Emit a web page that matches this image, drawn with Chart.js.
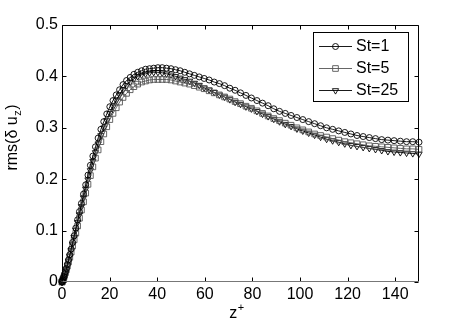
<!DOCTYPE html>
<html>
<head>
<meta charset="utf-8">
<script src="https://cdn.jsdelivr.net/npm/chart.js@4.4.1/dist/chart.umd.min.js"></script>
<style>
  html, body { margin: 0; padding: 0; background: #fff; }
  #caja { width: 463px; height: 327px; position: relative; }
</style>
</head>
<body>
<div id="caja"><canvas id="grafico"></canvas></div>
<script>
// posiciones z+ de la malla (denso cerca de la pared)
const zPlus = [
  0, 0.02, 0.09, 0.21, 0.37, 0.57, 0.82, 1.12, 1.46, 1.85,
  2.28, 2.76, 3.28, 3.85, 4.46, 5.11, 5.81, 6.56, 7.34, 8.17,
  9.05, 9.96, 10.92, 11.93, 12.97, 14.05, 15.18, 16.35, 17.56, 18.81,
  20.10, 21.43, 22.79, 24.20, 25.64, 27.13, 28.65, 30.20, 31.80, 33.43,
  35.09, 36.79, 38.53, 40.30, 42.10, 43.93, 45.80, 47.70, 49.63, 51.59,
  53.58, 55.60, 57.65, 59.73, 61.83, 63.96, 66.12, 68.30, 70.51, 72.74,
  75.00, 77.28, 79.58, 81.90, 84.25, 86.61, 88.99, 91.39, 93.81, 96.25,
  98.70, 101.17, 103.65, 106.14, 108.65, 111.18, 113.71, 116.26, 118.81, 121.38,
  123.95, 126.54, 129.12, 131.72, 134.32, 136.93, 139.54, 142.15, 144.77, 147.38,
  150
];

const st1 = [
  0, 0.000, 0.001, 0.002, 0.004, 0.007, 0.010, 0.015, 0.020, 0.026,
  0.034, 0.043, 0.053, 0.064, 0.077, 0.090, 0.105, 0.121, 0.137, 0.153,
  0.171, 0.189, 0.208, 0.227, 0.245, 0.263, 0.280, 0.297, 0.312, 0.327,
  0.341, 0.353, 0.364, 0.374, 0.384, 0.392, 0.398, 0.404, 0.408, 0.411,
  0.414, 0.415, 0.416, 0.417, 0.417, 0.416, 0.415, 0.413, 0.411, 0.408,
  0.405, 0.402, 0.399, 0.396, 0.393, 0.389, 0.386, 0.382, 0.377, 0.373,
  0.368, 0.363, 0.358, 0.353, 0.348, 0.343, 0.337, 0.332, 0.328, 0.324,
  0.320, 0.316, 0.312, 0.308, 0.304, 0.300, 0.297, 0.294, 0.291, 0.288,
  0.285, 0.283, 0.281, 0.279, 0.277, 0.276, 0.275, 0.274, 0.273, 0.273,
  0.272
];

const st5 = [
  0, 0.000, 0.001, 0.002, 0.004, 0.006, 0.009, 0.013, 0.018, 0.024,
  0.031, 0.039, 0.048, 0.058, 0.070, 0.082, 0.095, 0.109, 0.124, 0.140,
  0.156, 0.173, 0.190, 0.207, 0.224, 0.241, 0.257, 0.273, 0.288, 0.302,
  0.316, 0.328, 0.339, 0.350, 0.359, 0.367, 0.374, 0.380, 0.385, 0.389,
  0.391, 0.393, 0.394, 0.394, 0.394, 0.394, 0.393, 0.391, 0.389, 0.387,
  0.385, 0.382, 0.379, 0.376, 0.372, 0.368, 0.364, 0.360, 0.356, 0.351,
  0.347, 0.342, 0.338, 0.333, 0.328, 0.323, 0.318, 0.314, 0.309, 0.305,
  0.300, 0.296, 0.292, 0.288, 0.285, 0.282, 0.279, 0.276, 0.273, 0.271,
  0.269, 0.267, 0.265, 0.264, 0.263, 0.262, 0.261, 0.260, 0.259, 0.259,
  0.258
];

const st25 = [
  0, 0.000, 0.001, 0.002, 0.004, 0.007, 0.010, 0.014, 0.019, 0.025,
  0.033, 0.041, 0.051, 0.062, 0.074, 0.087, 0.101, 0.116, 0.131, 0.147,
  0.164, 0.181, 0.199, 0.217, 0.235, 0.252, 0.269, 0.285, 0.300, 0.314,
  0.328, 0.341, 0.353, 0.364, 0.374, 0.382, 0.389, 0.395, 0.400, 0.403,
  0.405, 0.407, 0.408, 0.408, 0.407, 0.405, 0.403, 0.400, 0.397, 0.394,
  0.391, 0.387, 0.383, 0.378, 0.374, 0.369, 0.364, 0.360, 0.355, 0.350,
  0.346, 0.341, 0.337, 0.332, 0.327, 0.322, 0.317, 0.312, 0.307, 0.303,
  0.298, 0.294, 0.290, 0.286, 0.282, 0.278, 0.275, 0.272, 0.269, 0.266,
  0.264, 0.262, 0.260, 0.258, 0.256, 0.254, 0.253, 0.252, 0.251, 0.250,
  0.249
];

const etiquetas = ['St=1', 'St=5', 'St=25'];
const ticksX = [0, 20, 40, 60, 80, 100, 120, 140];
const ticksY = [0, 0.1, 0.2, 0.3, 0.4, 0.5];
const fuente = '"Liberation Sans", Arial, Helvetica, sans-serif';

function serie(label, valores, color, estilo, radio, rot) {
  return {
    label: label,
    data: zPlus.map((z, i) => ({ x: z, y: valores[i] })),
    borderColor: color,
    borderWidth: 0.9,
    pointStyle: estilo,
    pointRadius: radio,
    pointRotation: rot,
    pointBorderColor: color,
    pointBorderWidth: 0.9,
    pointBackgroundColor: 'rgba(0,0,0,0)',
    tension: 0,
    clip: false
  };
}

// marco estilo matlab: caja, ticks hacia adentro, titulos y leyenda
const marco = {
  id: 'marco',
  afterDraw(chart) {
    const { ctx, chartArea: a, scales: { x, y } } = chart;
    const L = Math.round(a.left) + 0.5, R = Math.round(a.right) - 0.5;
    const T = Math.round(a.top) + 0.5, B = Math.round(a.bottom) - 0.5;
    ctx.save();
    ctx.lineWidth = 1;
    ctx.strokeStyle = '#000';
    ctx.beginPath();
    ticksX.forEach(v => {
      const px = Math.round(x.getPixelForValue(v)) + 0.5;
      ctx.moveTo(px, B); ctx.lineTo(px, B - 4);
      ctx.moveTo(px, T); ctx.lineTo(px, T + 4);
    });
    ticksY.forEach(v => {
      const py = Math.round(y.getPixelForValue(v)) + 0.5;
      ctx.moveTo(L, py); ctx.lineTo(L + 4, py);
      ctx.moveTo(R, py); ctx.lineTo(R - 4, py);
    });
    ctx.moveTo(L, B); ctx.lineTo(L, T); ctx.lineTo(R, T); ctx.lineTo(R, B);
    ctx.stroke();
    ctx.strokeStyle = '#777';
    ctx.beginPath();
    ctx.moveTo(L, B); ctx.lineTo(R, B);
    ctx.stroke();

    // titulo eje x: z con superindice +
    ctx.fillStyle = '#000';
    ctx.textBaseline = 'alphabetic';
    ctx.textAlign = 'left';
    ctx.font = '16px ' + fuente;
    const wz = ctx.measureText('z').width;
    ctx.font = '11px ' + fuente;
    const wp = ctx.measureText('+').width;
    const x0 = (a.left + a.right) / 2 - 4 - (wz + wp) / 2;
    ctx.font = '16px ' + fuente;
    ctx.fillText('z', x0, 318);
    ctx.font = '11px ' + fuente;
    ctx.fillText('+', x0 + wz + 0.5, 311);

    // titulo eje y: rms(δ u_z)
    ctx.save();
    ctx.translate(17, 138);
    ctx.rotate(-Math.PI / 2);
    ctx.font = '16px ' + fuente;
    const p1 = 'rms(\u03b4 u', p3 = ')';
    const w1 = ctx.measureText(p1).width, w3 = ctx.measureText(p3).width;
    ctx.font = '11px ' + fuente;
    const w2 = ctx.measureText('z').width;
    let cx = -(w1 + w2 + w3) / 2;
    ctx.font = '16px ' + fuente;
    ctx.fillText(p1, cx, 0);
    ctx.font = '11px ' + fuente;
    ctx.fillText('z', cx + w1 + 0.5, 4);
    ctx.font = '16px ' + fuente;
    ctx.fillText(p3, cx + w1 + w2 + 1, 0);
    ctx.restore();

    // leyenda
    const lx = 313, ly = 32, lw = 95, lh = 69;
    ctx.fillStyle = '#fff';
    ctx.fillRect(lx, ly, lw, lh);
    ctx.strokeStyle = '#000';
    ctx.strokeRect(lx + 0.5, ly + 0.5, lw, lh);
    const filas = [46, 68, 90];
    chart.data.datasets.forEach((ds, i) => {
      const fy = filas[i] + 0.5;
      ctx.strokeStyle = ds.borderColor;
      ctx.lineWidth = ds.borderWidth;
      ctx.beginPath();
      ctx.moveTo(319, fy); ctx.lineTo(352, fy);
      ctx.stroke();
      ctx.fillStyle = 'rgba(0,0,0,0)';
      ctx.lineWidth = ds.pointBorderWidth;
      Chart.helpers.drawPoint(ctx, {
        pointStyle: ds.pointStyle,
        rotation: ds.pointRotation,
        radius: ds.pointRadius,
        borderWidth: ds.pointBorderWidth
      }, 335.5, fy);
      ctx.fillStyle = '#000';
      ctx.font = '16px ' + fuente;
      ctx.textBaseline = 'middle';
      ctx.fillText(etiquetas[i], 356, filas[i] + 1);
    });
    ctx.restore();
  }
};

const ctx = document.getElementById('grafico').getContext('2d');
window.chartRms = new Chart(ctx, {
  type: 'line',
  data: {
    datasets: [
      serie(etiquetas[0], st1, '#000', 'circle', 3, 0),
      serie(etiquetas[1], st5, '#555', 'rect', 4, 0),
      serie(etiquetas[2], st25, '#000', 'triangle', 3.6, 180)
    ]
  },
  options: {
    responsive: true,
    maintainAspectRatio: false,
    animation: false,
    events: [],
    layout: { padding: { left: 0, top: 25, right: 44, bottom: 0 } },
    plugins: {
      legend: { display: false },
      tooltip: { enabled: false }
    },
    scales: {
      x: {
        type: 'linear',
        min: 0,
        max: 150,
        afterBuildTicks: s => { s.ticks = ticksX.map(v => ({ value: v })); },
        afterFit: s => { s.height = 45; },
        grid: { display: false, drawTicks: false },
        border: { display: false },
        ticks: {
          color: '#000',
          font: { family: fuente, size: 16 },
          padding: 3,
          maxRotation: 0,
          autoSkip: false
        }
      },
      y: {
        min: 0,
        max: 0.5,
        afterBuildTicks: s => { s.ticks = ticksY.map(v => ({ value: v })); },
        afterFit: s => { s.width = 62; },
        grid: { display: false, drawTicks: false },
        border: { display: false },
        ticks: {
          color: '#000',
          font: { family: fuente, size: 16 },
          padding: 4,
          autoSkip: false,
          callback: v => (v === 0 ? '0' : v.toFixed(1))
        }
      }
    }
  },
  plugins: [marco]
});
</script>
</body>
</html>
